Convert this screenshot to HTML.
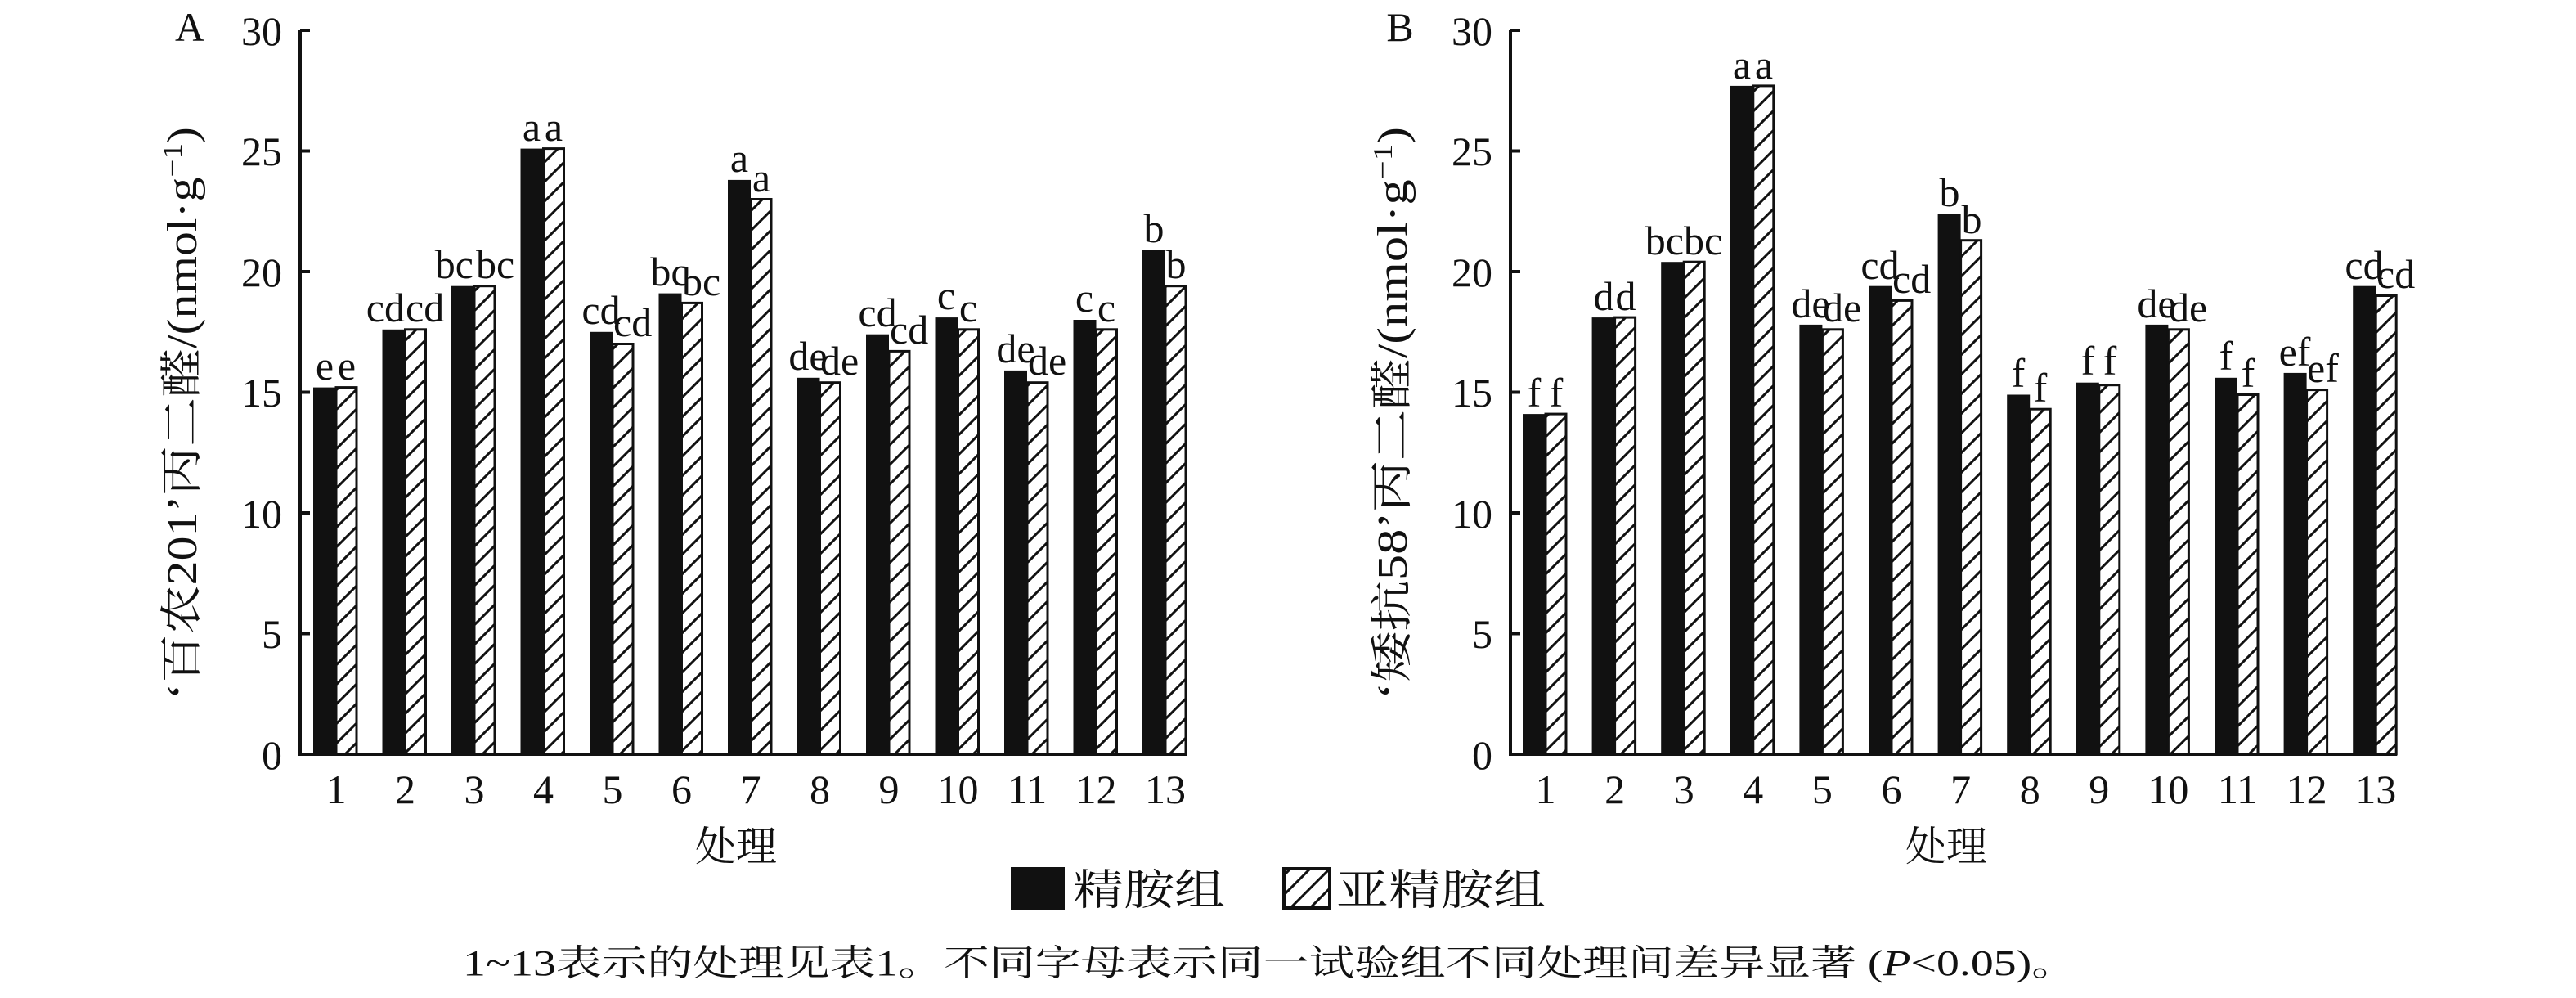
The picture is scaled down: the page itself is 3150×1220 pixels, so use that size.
<!DOCTYPE html>
<html><head><meta charset="utf-8"><style>
html,body{margin:0;padding:0;background:#fff;}
svg{display:block;}
text{font-family:"Liberation Serif","Noto Serif CJK SC",serif;fill:#111;}
.cj{font-family:"Liberation Serif","Noto Serif CJK SC",serif;}
</style></head><body>
<svg width="3150" height="1220" viewBox="0 0 3150 1220" xmlns="http://www.w3.org/2000/svg">
<defs>
<pattern id="h" patternUnits="userSpaceOnUse" width="24" height="24">
<rect width="24" height="24" fill="#fff"/>
<line x1="-6" y1="30" x2="30" y2="-6" stroke="#111" stroke-width="3"/>
<line x1="-6" y1="6" x2="6" y2="-6" stroke="#111" stroke-width="3"/>
<line x1="18" y1="30" x2="30" y2="18" stroke="#111" stroke-width="3"/>
</pattern>
</defs>

<!-- Panel A -->
<g font-size="50">
<text x="232" y="50" text-anchor="middle">A</text>
<g text-anchor="end">
<text x="345" y="55">30</text><text x="345" y="202">25</text><text x="345" y="350">20</text>
<text x="345" y="497">15</text><text x="345" y="645">10</text><text x="345" y="792">5</text><text x="345" y="940">0</text>
</g>
</g>
<g stroke="#111" stroke-width="4" fill="none">
<path d="M367,37 V922 H1452"/>
<path d="M367,37 h12 M367,184.5 h12 M367,332 h12 M367,479.5 h12 M367,627 h12 M367,774.5 h12"/>
</g>
<g fill="#111">
<rect x="383" y="473.6" width="28" height="448.4"/>
<rect x="467.5" y="402.8" width="28" height="519.2"/>
<rect x="552" y="349.7" width="28" height="572.3"/>
<rect x="636.5" y="181.6" width="28" height="740.4"/>
<rect x="721" y="405.8" width="28" height="516.2"/>
<rect x="805.5" y="358.6" width="28" height="563.4"/>
<rect x="890" y="219.9" width="28" height="702.1"/>
<rect x="974.5" y="461.8" width="28" height="460.2"/>
<rect x="1059" y="408.7" width="28" height="513.3"/>
<rect x="1143.5" y="388.1" width="28" height="533.9"/>
<rect x="1228" y="452.9" width="28" height="469.1"/>
<rect x="1312.5" y="391" width="28" height="531"/>
<rect x="1397" y="305.5" width="28" height="616.5"/>
</g>
<g fill="url(#h)" stroke="#111" stroke-width="3">
<rect x="411" y="473.6" width="25" height="448.4"/>
<rect x="495.5" y="402.8" width="25" height="519.2"/>
<rect x="580" y="349.7" width="25" height="572.3"/>
<rect x="664.5" y="181.6" width="25" height="740.4"/>
<rect x="749" y="420.5" width="25" height="501.5"/>
<rect x="833.5" y="370.4" width="25" height="551.6"/>
<rect x="918" y="243.5" width="25" height="678.5"/>
<rect x="1002.5" y="467.7" width="25" height="454.3"/>
<rect x="1087" y="429.4" width="25" height="492.6"/>
<rect x="1171.5" y="402.8" width="25" height="519.2"/>
<rect x="1256" y="467.7" width="25" height="454.3"/>
<rect x="1340.5" y="402.8" width="25" height="519.2"/>
<rect x="1425" y="349.7" width="25" height="572.3"/>
</g>
<g font-size="50">
<text x="397" y="464" text-anchor="middle">e</text><text x="424" y="464" text-anchor="middle">e</text>
<text x="495" y="393" text-anchor="end">cd</text><text x="496" y="393">cd</text>
<text x="579" y="340" text-anchor="end">bc</text><text x="582" y="340">bc</text>
<text x="650" y="172" text-anchor="middle">a</text><text x="677" y="172" text-anchor="middle">a</text>
<text x="735" y="396" text-anchor="middle">cd</text><text x="750" y="411">cd</text>
<text x="819" y="349" text-anchor="middle">bc</text><text x="834" y="361">bc</text>
<text x="904" y="210" text-anchor="middle">a</text><text x="931" y="234" text-anchor="middle">a</text>
<text x="988" y="452" text-anchor="middle">de</text><text x="1003" y="458">de</text>
<text x="1073" y="399" text-anchor="middle">cd</text><text x="1088" y="420">cd</text>
<text x="1157" y="378" text-anchor="middle">c</text><text x="1184" y="393" text-anchor="middle">c</text>
<text x="1242" y="443" text-anchor="middle">de</text><text x="1257" y="458">de</text>
<text x="1326" y="381" text-anchor="middle">c</text><text x="1353" y="393" text-anchor="middle">c</text>
<text x="1411" y="296" text-anchor="middle">b</text><text x="1438" y="340" text-anchor="middle">b</text>
</g>
<g font-size="50" text-anchor="middle">
<text x="411" y="982">1</text><text x="495.5" y="982">2</text><text x="580" y="982">3</text><text x="664.5" y="982">4</text>
<text x="749" y="982">5</text><text x="833.5" y="982">6</text><text x="918" y="982">7</text><text x="1002.5" y="982">8</text>
<text x="1087" y="982">9</text><text x="1171.5" y="982">10</text><text x="1256" y="982">11</text><text x="1340.5" y="982">12</text><text x="1425" y="982">13</text>
</g>
<text class="cj" x="0" y="0" font-size="52" text-anchor="middle" textLength="700" lengthAdjust="spacingAndGlyphs" transform="translate(240,505) rotate(-90)">‘百农201’丙二醛/(nmol·g<tspan dy="-18" font-size="34">−1</tspan><tspan dy="18">)</tspan></text>
<text class="cj" x="900" y="1052" font-size="50" text-anchor="middle">处理</text>

<!-- Panel B -->
<g font-size="50">
<text x="1712" y="50" text-anchor="middle">B</text>
<g text-anchor="end">
<text x="1825" y="55">30</text><text x="1825" y="202">25</text><text x="1825" y="350">20</text>
<text x="1825" y="497">15</text><text x="1825" y="645">10</text><text x="1825" y="792">5</text><text x="1825" y="940">0</text>
</g>
</g>
<g stroke="#111" stroke-width="4" fill="none">
<path d="M1847,37 V922 H2931"/>
<path d="M1847,37 h12 M1847,184.5 h12 M1847,332 h12 M1847,479.5 h12 M1847,627 h12 M1847,774.5 h12"/>
</g>
<g fill="#111">
<rect x="1862" y="506.1" width="28" height="415.9"/>
<rect x="1946.6" y="388.1" width="28" height="533.9"/>
<rect x="2031.2" y="320.2" width="28" height="601.8"/>
<rect x="2115.8" y="104.9" width="28" height="817.1"/>
<rect x="2200.4" y="396.9" width="28" height="525.1"/>
<rect x="2285" y="349.7" width="28" height="572.3"/>
<rect x="2369.6" y="261.2" width="28" height="660.8"/>
<rect x="2454.2" y="482.5" width="28" height="439.5"/>
<rect x="2538.8" y="467.7" width="28" height="454.3"/>
<rect x="2623.4" y="396.9" width="28" height="525.1"/>
<rect x="2708" y="461.8" width="28" height="460.2"/>
<rect x="2792.6" y="455.9" width="28" height="466.1"/>
<rect x="2877.2" y="349.7" width="28" height="572.3"/>
</g>
<g fill="url(#h)" stroke="#111" stroke-width="3">
<rect x="1890" y="506.1" width="25" height="415.9"/>
<rect x="1974.6" y="388.1" width="25" height="533.9"/>
<rect x="2059.2" y="320.2" width="25" height="601.8"/>
<rect x="2143.8" y="104.9" width="25" height="817.1"/>
<rect x="2228.4" y="402.8" width="25" height="519.2"/>
<rect x="2313" y="367.4" width="25" height="554.6"/>
<rect x="2397.6" y="293.7" width="25" height="628.3"/>
<rect x="2482.2" y="500.2" width="25" height="421.8"/>
<rect x="2566.8" y="470.7" width="25" height="451.3"/>
<rect x="2651.4" y="402.8" width="25" height="519.2"/>
<rect x="2736" y="482.5" width="25" height="439.5"/>
<rect x="2820.6" y="476.6" width="25" height="445.4"/>
<rect x="2905.2" y="361.5" width="25" height="560.5"/>
</g>
<g font-size="50">
<text x="1876" y="497" text-anchor="middle">f</text><text x="1903" y="497" text-anchor="middle">f</text>
<text x="1961" y="379" text-anchor="middle">d</text><text x="1988" y="379" text-anchor="middle">d</text>
<text x="2059" y="311" text-anchor="end">bc</text><text x="2059" y="311">bc</text>
<text x="2130" y="96" text-anchor="middle">a</text><text x="2157" y="96" text-anchor="middle">a</text>
<text x="2214" y="388" text-anchor="middle">de</text><text x="2229" y="393">de</text>
<text x="2299" y="341" text-anchor="middle">cd</text><text x="2314" y="358">cd</text>
<text x="2384" y="252" text-anchor="middle">b</text><text x="2411" y="285" text-anchor="middle">b</text>
<text x="2468" y="473" text-anchor="middle">f</text><text x="2495" y="491" text-anchor="middle">f</text>
<text x="2553" y="458" text-anchor="middle">f</text><text x="2580" y="458" text-anchor="middle">f</text>
<text x="2637" y="388" text-anchor="middle">de</text><text x="2652" y="393">de</text>
<text x="2722" y="452" text-anchor="middle">f</text><text x="2749" y="473" text-anchor="middle">f</text>
<text x="2806" y="447" text-anchor="middle">ef</text><text x="2821" y="467">ef</text>
<text x="2891" y="341" text-anchor="middle">cd</text><text x="2906" y="352">cd</text>
</g>
<g font-size="50" text-anchor="middle">
<text x="1890" y="982">1</text><text x="1974.6" y="982">2</text><text x="2059.2" y="982">3</text><text x="2143.8" y="982">4</text>
<text x="2228.4" y="982">5</text><text x="2313" y="982">6</text><text x="2397.6" y="982">7</text><text x="2482.2" y="982">8</text>
<text x="2566.8" y="982">9</text><text x="2651.4" y="982">10</text><text x="2736" y="982">11</text><text x="2820.6" y="982">12</text><text x="2905.2" y="982">13</text>
</g>
<text class="cj" x="0" y="0" font-size="52" text-anchor="middle" textLength="700" lengthAdjust="spacingAndGlyphs" transform="translate(1720,505) rotate(-90)">‘矮抗58’丙二醛/(nmol·g<tspan dy="-18" font-size="34">−1</tspan><tspan dy="18">)</tspan></text>
<text class="cj" x="2380" y="1052" font-size="50" text-anchor="middle">处理</text>

<!-- Legend -->
<rect x="1236" y="1060" width="66" height="52" fill="#111"/>
<text class="cj" x="1312" y="1106" font-size="52" textLength="186" lengthAdjust="spacingAndGlyphs">精胺组</text>
<rect x="1570" y="1062" width="56" height="48" fill="url(#h)" stroke="#111" stroke-width="4"/>
<text class="cj" x="1634" y="1106" font-size="52" textLength="256" lengthAdjust="spacingAndGlyphs">亚精胺组</text>

<!-- Caption -->
<text class="cj" x="566" y="1192" font-size="44" textLength="1974" lengthAdjust="spacingAndGlyphs">1~13表示的处理见表1。不同字母表示同一试验组不同处理间差异显著 (<tspan font-style="italic">P</tspan>&lt;0.05)。</text>
</svg>
</body></html>
